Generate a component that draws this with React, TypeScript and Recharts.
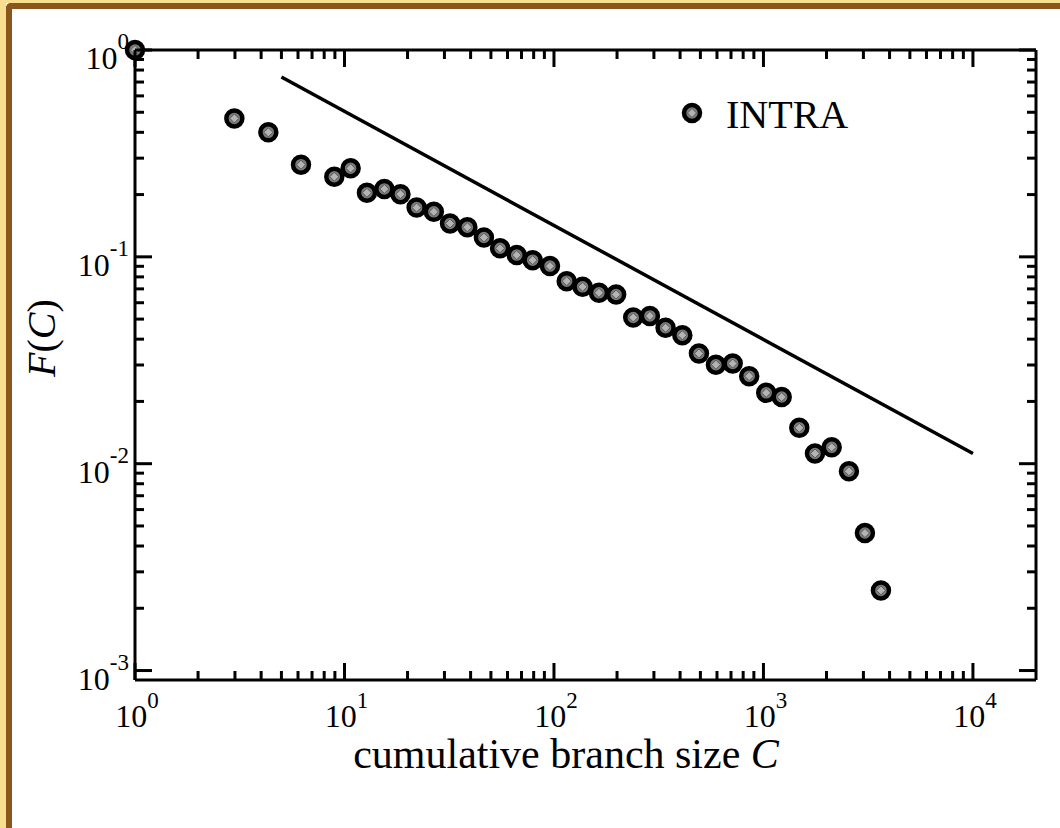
import { ComposedChart, Scatter, XAxis, YAxis, Legend } from "recharts";

// cumulative branch size C and the fraction F(C)
const branchSizes = [
  1, 2.98, 4.33, 6.2, 8.94, 10.7, 12.8, 15.5, 18.5, 22.1, 26.7, 31.9, 38.6,
  46.3, 55.3, 66.4, 79.1, 95.7, 115, 137, 164, 198, 239, 287, 341, 410, 492,
  593, 713, 855, 1031, 1222, 1483, 1762, 2117, 2559, 3051, 3638,
];
const fractions = [
  1, 0.467, 0.4, 0.279, 0.244, 0.268, 0.204, 0.213, 0.201, 0.173, 0.165,
  0.145, 0.139, 0.124, 0.11, 0.102, 0.0964, 0.0902, 0.0763, 0.0716, 0.067,
  0.0658, 0.0509, 0.0518, 0.0454, 0.0418, 0.0341, 0.0301, 0.0305, 0.0265,
  0.022, 0.021, 0.0149, 0.0112, 0.012, 0.00919, 0.00462, 0.00244,
];

// power-law guide line
const fitSizes = [5, 10000];
const fitValues = [0.74, 0.0112];

const xExponents = [0, 1, 2, 3, 4];
const yExponents = [-3, -2, -1, 0];
const mantissas = [1, 2, 3, 4, 5, 6, 7, 8, 9];

const intra = branchSizes.map((c, i) => ({ c, f: fractions[i] }));
const fit = fitSizes.map((c, i) => ({ c, f: fitValues[i] }));

const xTicks = xExponents.flatMap((e) =>
  e === 4 ? [1e4] : mantissas.map((m) => m * Math.pow(10, e))
);
const yTicks = yExponents.flatMap((e) =>
  e === 0 ? [1] : mantissas.map((m) => Number((m * Math.pow(10, e)).toPrecision(3)))
);

const X_DOMAIN = [1, 20000];
const Y_DOMAIN = [0.0009, 1];

const SERIF = '"Liberation Serif", "Times New Roman", serif';

const isMajor = (v: number) => {
  const e = Math.log10(v);
  return Math.abs(e - Math.round(e)) < 1e-6;
};

const XTick = ({ x, y, payload, side }: any) => {
  const v = payload.value;
  const major = isMajor(v);
  const len = major ? 17 : 9;
  const dir = side === "bottom" ? -1 : 1;
  return (
    <g>
      <line x1={x} x2={x} y1={y} y2={y + dir * len} stroke="#000" strokeWidth={3} />
      {major && side === "bottom" && (
        <text x={x + 2} y={y + 47} textAnchor="middle" fontFamily={SERIF} style={{ fontSize: 32 }} fill="#000">
          10
          <tspan dy={-19} style={{ fontSize: 23 }}>{Math.round(Math.log10(v))}</tspan>
        </text>
      )}
    </g>
  );
};

const YTick = ({ x, y, payload, side }: any) => {
  const v = payload.value;
  const major = isMajor(v);
  const len = major ? 17 : 9;
  const dir = side === "left" ? 1 : -1;
  return (
    <g>
      <line x1={x} x2={x + dir * len} y1={y} y2={y} stroke="#000" strokeWidth={3} />
      {major && side === "left" && (
        <text x={x - 6} y={y + 19} textAnchor="end" fontFamily={SERIF} style={{ fontSize: 32 }} fill="#000">
          10
          <tspan dy={-20} style={{ fontSize: 23 }}>{Math.round(Math.log10(v))}</tspan>
        </text>
      )}
    </g>
  );
};

const Marker = ({ cx, cy }: any) => {
  if (cx == null || cy == null) return null;
  const d = 4.5;
  return (
    <g>
      <circle cx={cx} cy={cy} r={8} fill="#7c7c7c" stroke="#000" strokeWidth={4.5} />
      <path
        d={`M${cx},${cy - d} L${cx + d},${cy} L${cx},${cy + d} L${cx - d},${cy} Z`}
        fill="#b4b4b4"
        stroke="#4a4a4a"
        strokeWidth={0.8}
      />
    </g>
  );
};

const LegendBox = ({ payload }: any) => {
  const items = (payload || []).filter((p: any) => p.type !== "none");
  return (
    <svg width={200} height={50}>
      {items.map((p: any) => (
        <g key={p.value}>
          <Marker cx={16} cy={23} />
          <text x={50} y={38} fontFamily={SERIF} style={{ fontSize: 40 }} fill="#000">
            {p.value}
          </text>
        </g>
      ))}
    </svg>
  );
};

const axisLine = { stroke: "#000", strokeWidth: 3 };

export default function App() {
  return (
    <div
      style={{
        position: "absolute",
        top: 0,
        left: 0,
        width: 1060,
        height: 828,
        background: "#fff",
        overflow: "hidden",
      }}
    >
      {/* frame */}
      <div style={{ position: "absolute", left: 0, top: 0, width: 1060, height: 3, background: "#f7df8f" }} />
      <div style={{ position: "absolute", left: 0, top: 0, width: 6, height: 828, background: "#f7df8f" }} />
      <div
        style={{
          position: "absolute",
          left: 6,
          top: 3,
          width: 1054,
          height: 825,
          borderTop: "6px solid #8a561c",
          borderLeft: "6px solid #8a561c",
          borderTopLeftRadius: 5,
          boxSizing: "border-box",
        }}
      />
      <div style={{ position: "absolute", left: 0, top: 0 }}>
        <ComposedChart
          width={1060}
          height={828}
          margin={{ top: 40, right: 14, bottom: 108, left: 95 }}
        >
          <XAxis
            xAxisId="bottom"
            dataKey="c"
            type="number"
            scale="log"
            domain={X_DOMAIN}
            ticks={xTicks}
            interval={0}
            height={40}
            tickSize={0}
            tickMargin={0}
            tickLine={false}
            axisLine={axisLine}
            tick={(p: any) => <XTick {...p} side="bottom" />}
            label={{
              content: () => (
                <text x={566} y={768} textAnchor="middle" fontFamily={SERIF} style={{ fontSize: 42 }} fill="#000">
                  cumulative branch size <tspan fontStyle="italic">C</tspan>
                </text>
              ),
            }}
          />
          <XAxis
            xAxisId="top"
            orientation="top"
            dataKey="c"
            type="number"
            scale="log"
            domain={X_DOMAIN}
            ticks={xTicks}
            interval={0}
            height={10}
            tickSize={0}
            tickMargin={0}
            tickLine={false}
            axisLine={axisLine}
            tick={(p: any) => <XTick {...p} side="top" />}
          />
          <YAxis
            yAxisId="left"
            dataKey="f"
            type="number"
            scale="log"
            domain={Y_DOMAIN}
            ticks={yTicks}
            interval={0}
            width={40}
            tickSize={0}
            tickMargin={0}
            tickLine={false}
            axisLine={axisLine}
            tick={(p: any) => <YTick {...p} side="left" />}
            label={{
              content: () => (
                <text
                  transform="translate(55,338) rotate(-90)"
                  textAnchor="middle"
                  fontFamily={SERIF}
                  style={{ fontSize: 40 }}
                  fill="#000"
                >
                  <tspan fontStyle="italic">F</tspan>(<tspan fontStyle="italic">C</tspan>)
                </text>
              ),
            }}
          />
          <YAxis
            yAxisId="right"
            orientation="right"
            dataKey="f"
            type="number"
            scale="log"
            domain={Y_DOMAIN}
            ticks={yTicks}
            interval={0}
            width={10}
            tickSize={0}
            tickMargin={0}
            tickLine={false}
            axisLine={axisLine}
            tick={(p: any) => <YTick {...p} side="right" />}
          />
          <Legend
            verticalAlign="middle"
            content={<LegendBox />}
            wrapperStyle={{ left: 676, top: 90, width: 200, height: 50 }}
          />
          <Scatter
            name="fit"
            data={fit}
            xAxisId="bottom"
            yAxisId="left"
            legendType="none"
            line={{ stroke: "#000", strokeWidth: 3.5 }}
            shape={() => null}
            isAnimationActive={false}
          />
          <Scatter
            name="INTRA"
            data={intra}
            xAxisId="bottom"
            yAxisId="left"
            shape={<Marker />}
            isAnimationActive={false}
          />
          <Scatter
            name="frame"
            data={intra}
            xAxisId="top"
            yAxisId="right"
            legendType="none"
            shape={() => null}
            isAnimationActive={false}
          />
        </ComposedChart>
      </div>
    </div>
  );
}
